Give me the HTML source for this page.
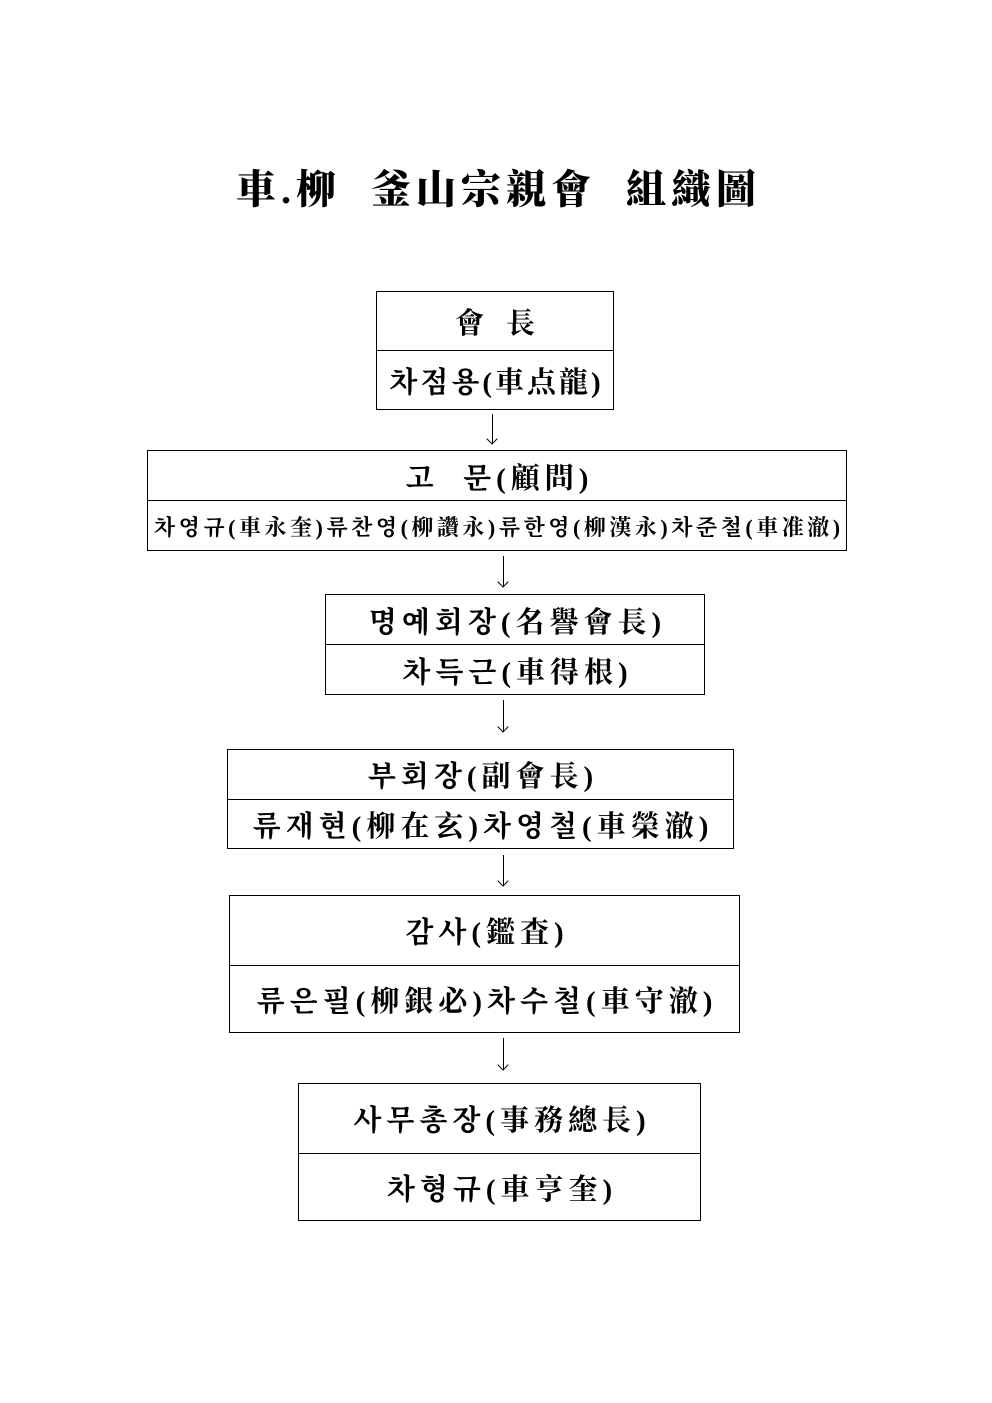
<!DOCTYPE html>
<html><head><meta charset="utf-8"><style>
body{margin:0;width:992px;height:1403px;background:#fff;position:relative;font-family:"Liberation Serif","Noto Serif CJK SC","NanumGothic",serif;font-weight:bold;color:#000;overflow:hidden}
.t{position:absolute;left:0;width:992px;top:162px;text-align:center;font-size:40px;line-height:56px;font-weight:900;letter-spacing:5px;padding-left:5px;box-sizing:border-box}
.b{position:absolute;border:1px solid #000;box-sizing:border-box}
.r{position:absolute;left:0;right:0;display:flex;align-items:center;justify-content:center;white-space:nowrap;letter-spacing:5px;padding-left:5px}
.d{position:absolute;left:0;right:0;border-top:1px solid #000}
.a{position:absolute;width:1px;background:#000}
.a:after{content:"";position:absolute;left:-5px;bottom:0;width:7px;height:7px;border-right:1px solid #000;border-bottom:1px solid #000;transform:translate(1px,-1px) rotate(45deg);transform-origin:center}
</style></head><body>
<div class="t">車.柳&nbsp;&nbsp;釜山宗親會&nbsp;&nbsp;組織圖</div>

<div class="b" style="left:376px;top:291px;width:238px;height:119px">
<div class="r" style="top:0;height:59px;font-size:29px;letter-spacing:0;padding-left:0">會&nbsp;&nbsp;&nbsp;長</div>
<div class="d" style="top:58px"></div>
<div class="r" style="top:59px;height:59px;font-size:29px;letter-spacing:3px;padding-left:3px">차점용(車点龍)</div></div>
<div class="a" style="left:492px;top:414px;height:30px"></div>

<div class="b" style="left:147px;top:450px;width:700px;height:101px">
<div class="r" style="top:0;height:50px;font-size:29px">고&nbsp;&nbsp;문(顧問)</div>
<div class="d" style="top:49px"></div>
<div class="r" style="top:50px;height:50px;font-size:22px;letter-spacing:3.5px;padding-left:3.5px">차영규(車永奎)류찬영(柳讚永)류한영(柳漢永)차준철(車准澈)</div></div>
<div class="a" style="left:503px;top:556px;height:31px"></div>

<div class="b" style="left:325px;top:594px;width:380px;height:101px">
<div class="r" style="top:0;height:50px;font-size:29px">명예회장(名譽會長)</div>
<div class="d" style="top:49px"></div>
<div class="r" style="top:50px;height:50px;font-size:29px">차득근(車得根)</div></div>
<div class="a" style="left:503px;top:700px;height:32px"></div>

<div class="b" style="left:227px;top:749px;width:507px;height:100px">
<div class="r" style="top:0;height:49px;font-size:29px">부회장(副會長)</div>
<div class="d" style="top:49px"></div>
<div class="r" style="top:50px;height:49px;font-size:29px">류재현(柳在玄)차영철(車榮澈)</div></div>
<div class="a" style="left:503px;top:855px;height:31px"></div>

<div class="b" style="left:229px;top:895px;width:511px;height:138px">
<div class="r" style="top:0;height:69px;font-size:29px">감사(鑑査)</div>
<div class="d" style="top:69px"></div>
<div class="r" style="top:70px;height:67px;font-size:29px">류은필(柳銀必)차수철(車守澈)</div></div>
<div class="a" style="left:503px;top:1038px;height:32px"></div>

<div class="b" style="left:298px;top:1083px;width:403px;height:138px">
<div class="r" style="top:0;height:69px;font-size:29px">사무총장(事務總長)</div>
<div class="d" style="top:69px"></div>
<div class="r" style="top:70px;height:67px;font-size:29px">차형규(車亨奎)</div></div>
</body></html>
